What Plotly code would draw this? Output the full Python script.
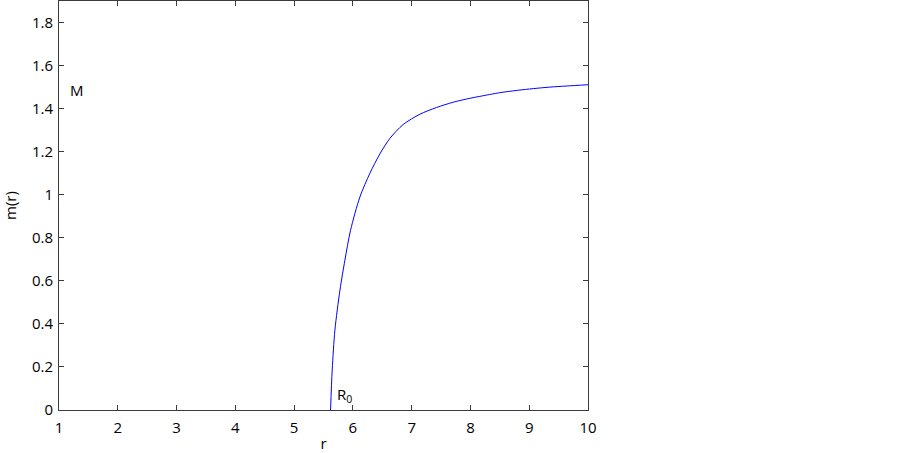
import plotly.graph_objects as go

# values
r_vals = [5.62, 5.648, 5.694, 5.78, 5.864, 5.96, 6.12, 6.29, 6.46, 6.63, 6.855,
          7.14, 7.42, 7.71, 7.99, 8.16, 8.5, 8.8, 9.07, 9.35, 9.63, 10.0]
m_vals = [0.0, 0.186, 0.371, 0.557, 0.696, 0.835, 0.99, 1.10, 1.19, 1.262, 1.326,
          1.374, 1.405, 1.430, 1.448, 1.457, 1.474, 1.485, 1.493, 1.50, 1.505, 1.511]

x_ticks = [1, 2, 3, 4, 5, 6, 7, 8, 9, 10]
y_ticks = [0, 0.2, 0.4, 0.6, 0.8, 1, 1.2, 1.4, 1.6, 1.8]
y_tick_text = ["0", "0.2", "0.4", "0.6", "0.8", "1", "1.2", "1.4", "1.6", "1.8"]

FONT = "Open Sans"
AXIS_COL = "#3c3c3c"

fig = go.Figure()
fig.add_trace(go.Scatter(x=r_vals, y=m_vals, mode="lines",
                         line=dict(color="#0000ff", width=1, shape="spline", smoothing=0.8),
                         showlegend=False, hoverinfo="skip"))

fig.add_annotation(x=1.15, y=1.485, text="M", showarrow=False, xanchor="left",
                   font=dict(family=FONT, size=15, color="black"))
fig.add_annotation(x=5.7, y=0.01, text="R<sub>0</sub>", showarrow=False, xanchor="left",
                   yanchor="bottom", font=dict(family=FONT, size=15, color="black"))

axis_common = dict(showgrid=False, zeroline=False, showline=True, linecolor=AXIS_COL,
                   linewidth=1, mirror="ticks", ticks="inside", ticklen=5, automargin=False,
                   tickcolor=AXIS_COL, tickfont=dict(family=FONT, size=15, color="black"))

fig.update_xaxes(range=[1, 10], tickvals=x_ticks, ticktext=[str(v) for v in x_ticks],
                 title=dict(text="r", font=dict(family=FONT, size=15, color="black")),
                 ticklabelstandoff=4, **axis_common)
fig.update_yaxes(range=[0, 1.9], tickvals=y_ticks, ticktext=y_tick_text,
                 title=dict(text="m(r)", font=dict(family=FONT, size=15, color="black")),
                 ticklabelstandoff=2, **axis_common)

fig.update_layout(width=902, height=453, plot_bgcolor="white", paper_bgcolor="white",
                  margin=dict(l=59, r=314, t=1, b=43))

# page body has a default 8px margin; drop it so the figure sits at the corner
fig.write_html("out.html", config={"displayModeBar": False},
               post_script="document.body.style.margin='0';")
